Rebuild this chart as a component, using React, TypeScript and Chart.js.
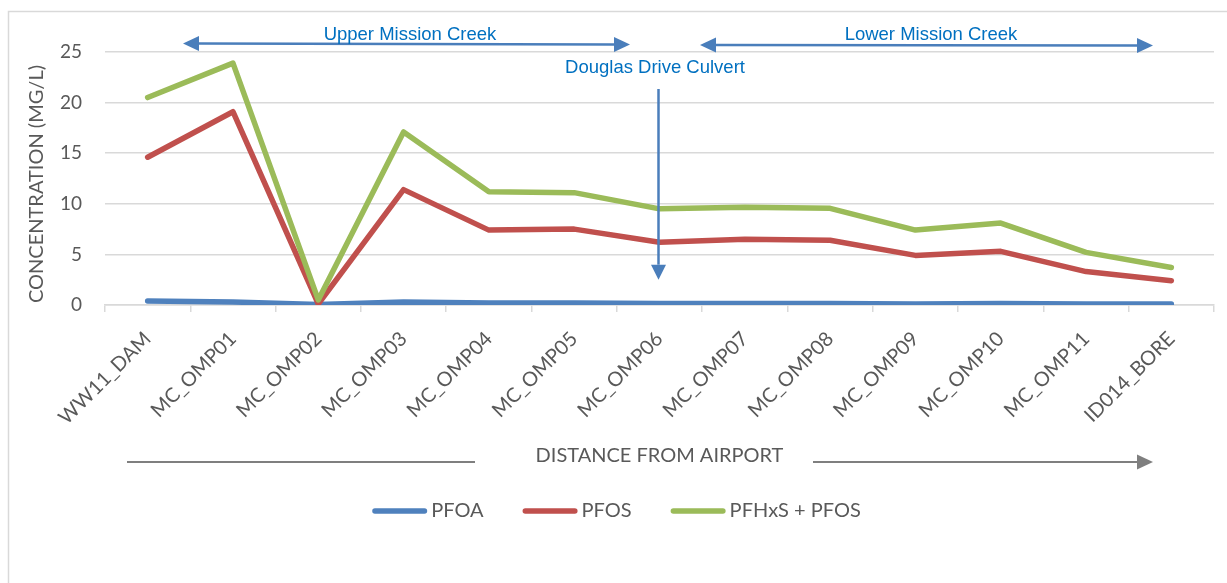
import React, { useEffect, useRef } from 'react';
import { Chart, registerables } from 'chart.js';

Chart.register(...registerables);

const categories = [
  'WW11_DAM', 'MC_OMP01', 'MC_OMP02', 'MC_OMP03', 'MC_OMP04', 'MC_OMP05', 'MC_OMP06',
  'MC_OMP07', 'MC_OMP08', 'MC_OMP09', 'MC_OMP10', 'MC_OMP11', 'ID014_BORE',
];
const pfoa = [0.4, 0.3, 0.05, 0.3, 0.2, 0.2, 0.15, 0.15, 0.15, 0.1, 0.15, 0.1, 0.1];
const pfos = [14.6, 19.1, 0.1, 11.4, 7.4, 7.5, 6.2, 6.5, 6.4, 4.9, 5.3, 3.3, 2.4];
const pfhxsPfos = [20.5, 23.9, 0.5, 17.1, 11.2, 11.1, 9.5, 9.65, 9.55, 7.4, 8.1, 5.2, 3.7];
const seriesNames = ['PFOA', 'PFOS', 'PFHxS + PFOS'];
const seriesColors = ['#4F81BD', '#C0504D', '#9BBB59'];
const yMin = 0;
const yMax = 25;
const yStep = 5;
const yTitle = 'CONCENTRATION (MG/L)';
const xTitle = 'DISTANCE FROM AIRPORT';
const upperLabel = 'Upper Mission Creek';
const lowerLabel = 'Lower Mission Creek';
const culvertLabel = 'Douglas Drive Culvert';
const culvertIndex = 6;

const W = 1227;
const H = 583;
const TEXT = '#595959';
const GRID = '#D9D9D9';
const ANNOT_TEXT = '#0070C0';
const ANNOT_ARROW = '#4A7EBB';
const AXIS_FONT_FAMILY = 'Lato, "DejaVu Sans", sans-serif';
const ANNOT_FONT = '18.5px "Liberation Sans", Arial, sans-serif';

function arrowHead(ctx: CanvasRenderingContext2D, tx: number, ty: number, fx: number, fy: number, len: number, width: number) {
  const ang = Math.atan2(ty - fy, tx - fx);
  const bx = tx - Math.cos(ang) * len;
  const by = ty - Math.sin(ang) * len;
  const px = -Math.sin(ang) * width / 2;
  const py = Math.cos(ang) * width / 2;
  ctx.beginPath();
  ctx.moveTo(tx, ty);
  ctx.lineTo(bx + px, by + py);
  ctx.lineTo(bx - px, by - py);
  ctx.closePath();
  ctx.fill();
  return [bx, by];
}

function arrow(ctx: CanvasRenderingContext2D, x1: number, y1: number, x2: number, y2: number,
  color: string, lw: number, len: number, width: number, both: boolean) {
  ctx.save();
  ctx.strokeStyle = color;
  ctx.fillStyle = color;
  ctx.lineWidth = lw;
  const [ex, ey] = arrowHead(ctx, x2, y2, x1, y1, len, width);
  let sx = x1, sy = y1;
  if (both) {
    const r = arrowHead(ctx, x1, y1, x2, y2, len, width);
    sx = r[0]; sy = r[1];
  }
  ctx.beginPath();
  ctx.moveTo(sx, sy);
  ctx.lineTo(ex, ey);
  ctx.stroke();
  ctx.restore();
}

const decorPlugin = {
  id: 'decor',
  beforeDraw(chart: any) {
    const ctx = chart.ctx as CanvasRenderingContext2D;
    ctx.save();
    ctx.strokeStyle = GRID;
    ctx.lineWidth = 1.5;
    ctx.strokeRect(8.5, 11.5, W + 20, H + 20);
    ctx.restore();
  },
  afterDatasetsDraw(chart: any) {
    const ctx = chart.ctx as CanvasRenderingContext2D;
    const xs = chart.scales.x;
    const ys = chart.scales.y;
    arrow(ctx, 183, 43.5, 630, 44.5, ANNOT_ARROW, 2.5, 16, 15, true);
    arrow(ctx, 700, 45, 1153, 45.5, ANNOT_ARROW, 2.5, 16, 15, true);
    const cx = xs.getPixelForValue(culvertIndex) - 1;
    arrow(ctx, cx, 89, cx, ys.getPixelForValue(2.5), ANNOT_ARROW, 2.5, 15, 15, false);
    ctx.save();
    ctx.fillStyle = ANNOT_TEXT;
    ctx.font = ANNOT_FONT;
    ctx.textAlign = 'center';
    ctx.textBaseline = 'alphabetic';
    ctx.fillText(upperLabel, 410, 39.5);
    ctx.fillText(lowerLabel, 931, 40);
    ctx.fillText(culvertLabel, 655, 72.5);
    ctx.restore();
  },
  afterDraw(chart: any) {
    const ctx = chart.ctx as CanvasRenderingContext2D;
    const area = chart.chartArea;
    ctx.save();
    ctx.fillStyle = TEXT;
    ctx.font = '20px ' + AXIS_FONT_FAMILY;
    ctx.translate(37, 184);
    ctx.rotate(-Math.PI / 2);
    ctx.textAlign = 'center';
    ctx.textBaseline = 'middle';
    ctx.fillText(yTitle, 0, 0);
    ctx.restore();

    const midX = (area.left + area.right) / 2;
    ctx.save();
    ctx.fillStyle = TEXT;
    ctx.font = '20px ' + AXIS_FONT_FAMILY;
    ctx.textAlign = 'center';
    ctx.textBaseline = 'middle';
    ctx.fillText(xTitle, midX, 456);
    ctx.strokeStyle = '#7F7F7F';
    ctx.lineWidth = 2;
    ctx.beginPath();
    ctx.moveTo(127, 462);
    ctx.lineTo(475, 462);
    ctx.stroke();
    ctx.restore();
    arrow(ctx, 813, 462, 1153, 462, '#7F7F7F', 2, 16, 15, false);

    ctx.save();
    ctx.font = '20px ' + AXIS_FONT_FAMILY;
    const markerLen = 55;
    const gapText = 4;
    const gapItem = 39;
    const widths = seriesNames.map((n) => ctx.measureText(n).width);
    let total = 0;
    widths.forEach((w, i) => { total += markerLen + gapText + w + (i < widths.length - 1 ? gapItem : 0); });
    let x = 616.5 - total / 2;
    const ly = 511;
    seriesNames.forEach((n, i) => {
      ctx.strokeStyle = seriesColors[i];
      ctx.lineWidth = 5.5;
      ctx.lineCap = 'round';
      ctx.beginPath();
      ctx.moveTo(x + 2.75, ly);
      ctx.lineTo(x + markerLen - 2.75, ly);
      ctx.stroke();
      x += markerLen + gapText;
      ctx.fillStyle = TEXT;
      ctx.textAlign = 'left';
      ctx.textBaseline = 'middle';
      ctx.fillText(n, x, ly);
      x += widths[i] + gapItem;
    });
    ctx.restore();
  },
};

export default function App() {
  const ref = useRef<HTMLCanvasElement | null>(null);
  useEffect(() => {
    if (!ref.current) return;
    const mk = (label: string, data: number[], color: string, order: number) => ({
      label,
      data,
      borderColor: color,
      backgroundColor: color,
      borderWidth: 5.5,
      borderCapStyle: 'round' as const,
      borderJoinStyle: 'round' as const,
      pointRadius: 0,
      pointHoverRadius: 0,
      tension: 0,
      fill: false,
      order,
    });
    const chart = new Chart(ref.current, {
      type: 'line',
      data: {
        labels: categories,
        datasets: [
          mk(seriesNames[0], pfoa, seriesColors[0], 3),
          mk(seriesNames[1], pfos, seriesColors[1], 2),
          mk(seriesNames[2], pfhxsPfos, seriesColors[2], 1),
        ],
      },
      options: {
        responsive: false,
        animation: false,
        devicePixelRatio: 1,
        layout: { padding: { top: 52, right: 13, left: 0, bottom: 0 } },
        plugins: {
          legend: { display: false },
          tooltip: { enabled: false },
          title: { display: false },
        },
        scales: {
          x: {
            type: 'category',
            offset: true,
            grid: {
              offset: true,
              drawOnChartArea: false,
              drawTicks: true,
              tickLength: 7,
              color: GRID,
              lineWidth: 1.5,
            },
            border: { display: true, color: GRID, width: 1.5 },
            ticks: {
              color: TEXT,
              font: { family: AXIS_FONT_FAMILY, size: 20 },
              minRotation: 45,
              maxRotation: 45,
              autoSkip: false,
              padding: 15,
            },
            afterFit: (s: any) => { s.height = 278; },
          },
          y: {
            min: yMin,
            max: yMax,
            ticks: {
              stepSize: yStep,
              color: TEXT,
              font: { family: AXIS_FONT_FAMILY, size: 19 },
              padding: 23,
            },
            grid: { color: GRID, lineWidth: 1.5, drawTicks: false },
            border: { display: false },
            afterFit: (s: any) => { s.width = 105; },
          },
        },
      },
      plugins: [decorPlugin],
    });
    return () => chart.destroy();
  }, []);
  return (
    <div style={{ position: 'absolute', left: 0, top: 0, width: W, height: H, background: '#fff' }}>
      <canvas ref={ref} width={W} height={H} style={{ width: W, height: H, display: 'block' }} />
    </div>
  );
}
